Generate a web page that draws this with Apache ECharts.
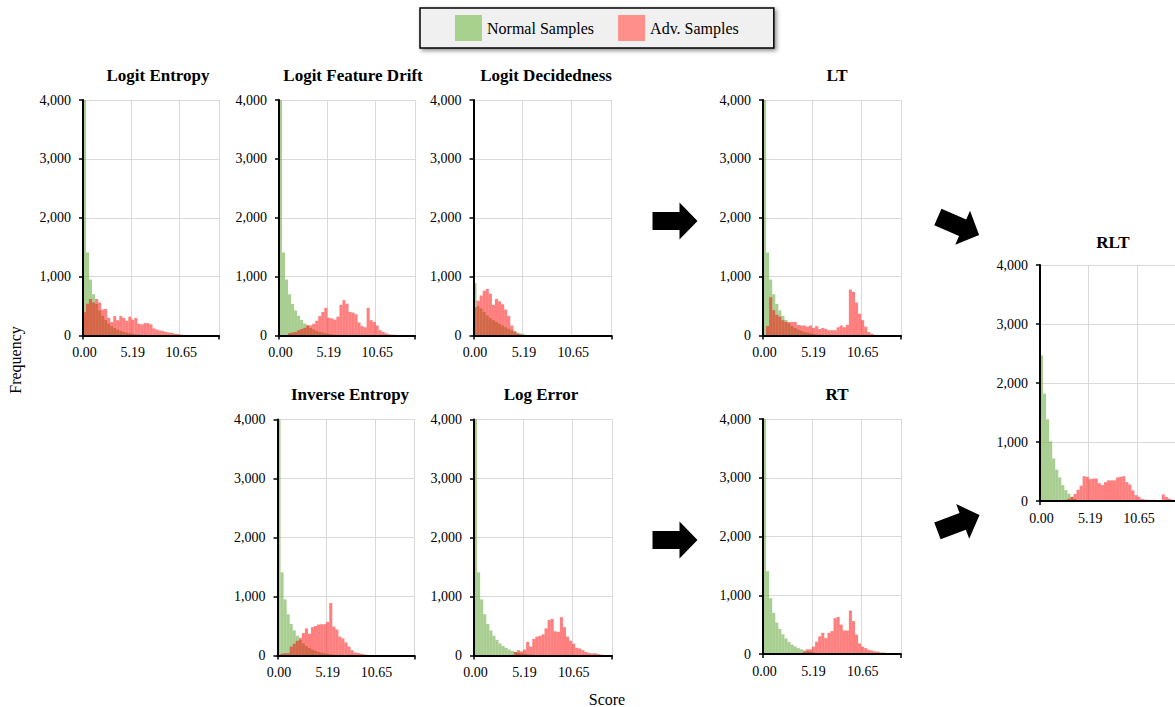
<!DOCTYPE html>
<html><head><meta charset="utf-8">
<script src="https://cdn.jsdelivr.net/npm/echarts@6/dist/echarts.min.js"></script>
<style>html,body{margin:0;padding:0;background:#fff}#c{width:1175px;height:707px}</style>
</head><body><div id="c"></div>
<script>
// ---------- data ----------
const binCount = 45;
const bins = Array.from({length: binCount}, (_, i) => String(i));   // histogram bin categories
const xTickLabels = ['0.00', '5.19', '10.65'];                       // labels at every 16th bin
const xTickEvery = 16;
const yMax = 4000, yStep = 1000;
const legendNames = ['Normal Samples', 'Adv. Samples'];
const xAxisTitle = 'Score';
const yAxisTitle = 'Frequency';

const normalMain = [5200,1410,950,700,535,425,335,265,205,160,128,100,80,62,48,38,28,20,14,10,7,5,3,2,1,0,0,0,0,0,0,0,0,0,0,0,0,0,0,0,0,0,0,0,0];
const normalDecided = [890,500,460,400,340,300,260,230,200,170,140,115,90,70,50,35,20,10,0,0,0,0,0,0,0,0,0,0,0,0,0,0,0,0,0,0,0,0,0,0,0,0,0,0,0];
const normalRLT = [2470,1820,1385,1010,720,530,400,270,185,125,70,35,15,5,0,0,0,0,0,0,0,0,0,0,0,0,0,0,0,0,0,0,0,0,0,0,0,0,0,0,0,0,0,0,0];

const advEntropy = [395,540,620,560,620,560,440,450,300,230,330,260,330,300,250,320,270,300,200,190,210,210,190,120,100,85,75,60,50,45,30,25,15,8,0,0,0,0,0,0,0,0,0,0,0];
const advDrift = [0,0,0,40,50,60,90,110,130,180,170,200,250,330,400,470,300,290,270,320,520,600,540,400,390,360,220,160,140,470,260,230,170,90,60,35,20,15,10,8,5,3,0,0,0];
const advDecided = [480,590,680,760,790,710,520,620,580,530,440,330,170,70,30,15,5,0,0,0,0,0,0,0,0,0,0,0,0,0,0,0,0,0,0,0,0,0,0,0,0,0,0,0,0];
const advLT = [0,160,650,430,350,320,260,230,230,230,230,180,170,170,150,170,130,160,110,130,110,90,90,90,140,170,140,180,780,740,560,370,260,150,60,30,10,5,0,0,0,0,0,0,0];
const advInverse = [0,30,40,40,150,200,250,300,380,460,370,480,500,525,530,530,570,890,490,440,320,290,220,150,90,50,45,30,20,10,5,0,0,0,0,0,0,0,0,0,0,0,0,0,0];
const advLogErr = [0,0,0,0,0,0,0,0,0,0,0,0,0,60,90,70,100,230,150,280,320,330,360,460,600,620,410,400,650,480,320,250,200,130,120,90,60,45,35,40,25,15,8,5,3];
const advRT = [0,0,0,0,0,0,0,0,0,0,0,0,0,40,80,80,125,210,300,360,270,360,390,610,630,500,400,400,740,560,330,180,125,100,70,60,45,40,25,25,15,10,8,5,3];
const advRLT = [0,0,0,0,0,0,0,0,20,40,70,120,190,260,420,410,370,380,380,300,270,320,350,350,350,400,410,420,320,280,180,100,70,35,25,20,20,20,15,10,110,70,40,20,10];

const panelTitles = ['Logit Entropy','Logit Feature Drift','Logit Decidedness','LT','Inverse Entropy','Log Error','RT','RLT'];
const panelNormal = [normalMain, normalMain, normalDecided, normalMain, normalMain, normalMain, normalMain, normalRLT];
const panelAdv = [advEntropy, advDrift, advDecided, advLT, advInverse, advLogErr, advRT, advRLT];

// ---------- layout ----------
const layout = [
  {left:83,    top:100,   width:136, height:235.5, tx:158,  ty:76},
  {left:279,   top:100,   width:136, height:235.5, tx:353,  ty:76},
  {left:473.5, top:100,   width:138, height:235.5, tx:546,  ty:76},
  {left:763,   top:100,   width:138, height:235.5, tx:837,  ty:76},
  {left:277.5, top:419.5, width:137, height:236,   tx:350,  ty:395},
  {left:474,   top:419.5, width:138, height:236,   tx:541,  ty:395},
  {left:763,   top:419,   width:138, height:235,   tx:837,  ty:395},
  {left:1040,  top:265,   width:137, height:236,   tx:1113, ty:243}
];

const FONT = '"Liberation Serif","Times New Roman",serif';
const GREEN = 'rgba(112,173,71,0.6)';
const RED = 'rgba(255,0,0,0.5)';
const fmtThousands = v => String(v).replace(/\B(?=(\d{3})+(?!\d))/g, ',');

const grid = [], xAxis = [], yAxis = [], series = [], title = [];
layout.forEach((g, i) => {
  grid.push({left:g.left, top:g.top, width:g.width, height:g.height, containLabel:false, outerBoundsMode:'none'});
  // main x axis (line, ticks, labels) drawn above bars
  xAxis.push({
    type:'category', gridIndex:i, data:bins, boundaryGap:true, z:3,
    axisLine:{show:true, onZero:false, lineStyle:{color:'#000', width:2}},
    axisTick:{show:true, length:4, interval:(idx)=> idx===0, lineStyle:{color:'#000', width:1.5}},
    axisLabel:{show:true, interval:0, margin:10, fontFamily:FONT, fontSize:14, color:'#000',
      formatter:(v, idx)=> (idx % xTickEvery === 0 ? (xTickLabels[idx / xTickEvery] || '') : '')},
    splitLine:{show:false}
  });
  // helper x axis for vertical gridlines (behind bars)
  xAxis.push({
    type:'category', gridIndex:i, data:bins, boundaryGap:true, z:0,
    axisLine:{show:false}, axisTick:{show:false}, axisLabel:{show:false},
    splitLine:{show:true, interval:(idx)=> idx>0 && idx % xTickEvery === 0, lineStyle:{color:'#d9d9d9', width:1}}
  });
  yAxis.push({
    type:'value', gridIndex:i, min:0, max:yMax, interval:yStep, z:3,
    axisLine:{show:true, onZero:false, lineStyle:{color:'#000', width:2}},
    axisTick:{show:true, length:4, lineStyle:{color:'#000', width:1.5}},
    axisLabel:{show:true, margin:12, fontFamily:FONT, fontSize:14, color:'#000', formatter:fmtThousands},
    splitLine:{show:false}
  });
  yAxis.push({
    type:'value', gridIndex:i, min:0, max:yMax, interval:yStep, z:0,
    axisLine:{show:false}, axisTick:{show:false}, axisLabel:{show:false},
    splitLine:{show:true, lineStyle:{color:'#d9d9d9', width:1}}
  });
  series.push({
    type:'bar', name:legendNames[0], xAxisIndex:2*i, yAxisIndex:2*i, data:panelNormal[i],
    barWidth:'100%', barGap:'-100%', itemStyle:{color:GREEN}, silent:true, clip:true
  });
  series.push({
    type:'bar', name:legendNames[1], xAxisIndex:2*i, yAxisIndex:2*i, data:panelAdv[i],
    barWidth:'100%', barGap:'-100%', itemStyle:{color:RED}, silent:true, clip:true
  });
  title.push({
    text:panelTitles[i], left:g.tx, top:g.ty - 9, textAlign:'center', padding:0,
    textStyle:{fontFamily:FONT, fontSize:17, fontWeight:'bold', color:'#000'}
  });
});

const arrowPts = [[-22.5,-9],[4.5,-9],[4.5,-18.5],[22.5,0],[4.5,18.5],[4.5,9],[-22.5,9]];
const arrows = [
  {x:675, y:221, r:0},
  {x:675, y:540, r:0},
  {x:958.5, y:226, r:-0.41},
  {x:958.5, y:523, r:0.36}
];

const graphic = [
  {type:'text', x:15, y:360, rotation:Math.PI/2,
   style:{text:yAxisTitle, fontFamily:FONT, fontSize:16, fill:'#000', align:'center', verticalAlign:'middle', textAlign:'center', textVerticalAlign:'middle'}},
  {type:'text', x:607, y:699,
   style:{text:xAxisTitle, fontFamily:FONT, fontSize:16, fill:'#000', align:'center', verticalAlign:'middle', textAlign:'center', textVerticalAlign:'middle'}}
].concat(arrows.map(a => ({type:'polygon', x:a.x, y:a.y, rotation:a.r, shape:{points:arrowPts}, style:{fill:'#000'}, silent:true})));

const chart = echarts.init(document.getElementById('c'), null, {renderer:'svg'});
chart.setOption({
  animation:false,
  backgroundColor:'#fff',
  title,
  legend:{
    left:420, top:8, orient:'horizontal', selectedMode:false,
    data:[{name:legendNames[0], itemStyle:{color:'#a9d18e'}}, {name:legendNames[1], itemStyle:{color:'#ff8f8a'}}],
    icon:'rect', itemWidth:27, itemHeight:26, itemGap:24,
    padding:[7,35,7,35],
    backgroundColor:'#f0f0f0', borderColor:'#000', borderWidth:1.5, borderRadius:0,
    shadowBlur:4, shadowColor:'rgba(0,0,0,0.45)', shadowOffsetX:2, shadowOffsetY:2,
    textStyle:{fontFamily:FONT, fontSize:16, color:'#000'}
  },
  grid, xAxis, yAxis, series, graphic
});
</script></body></html>
